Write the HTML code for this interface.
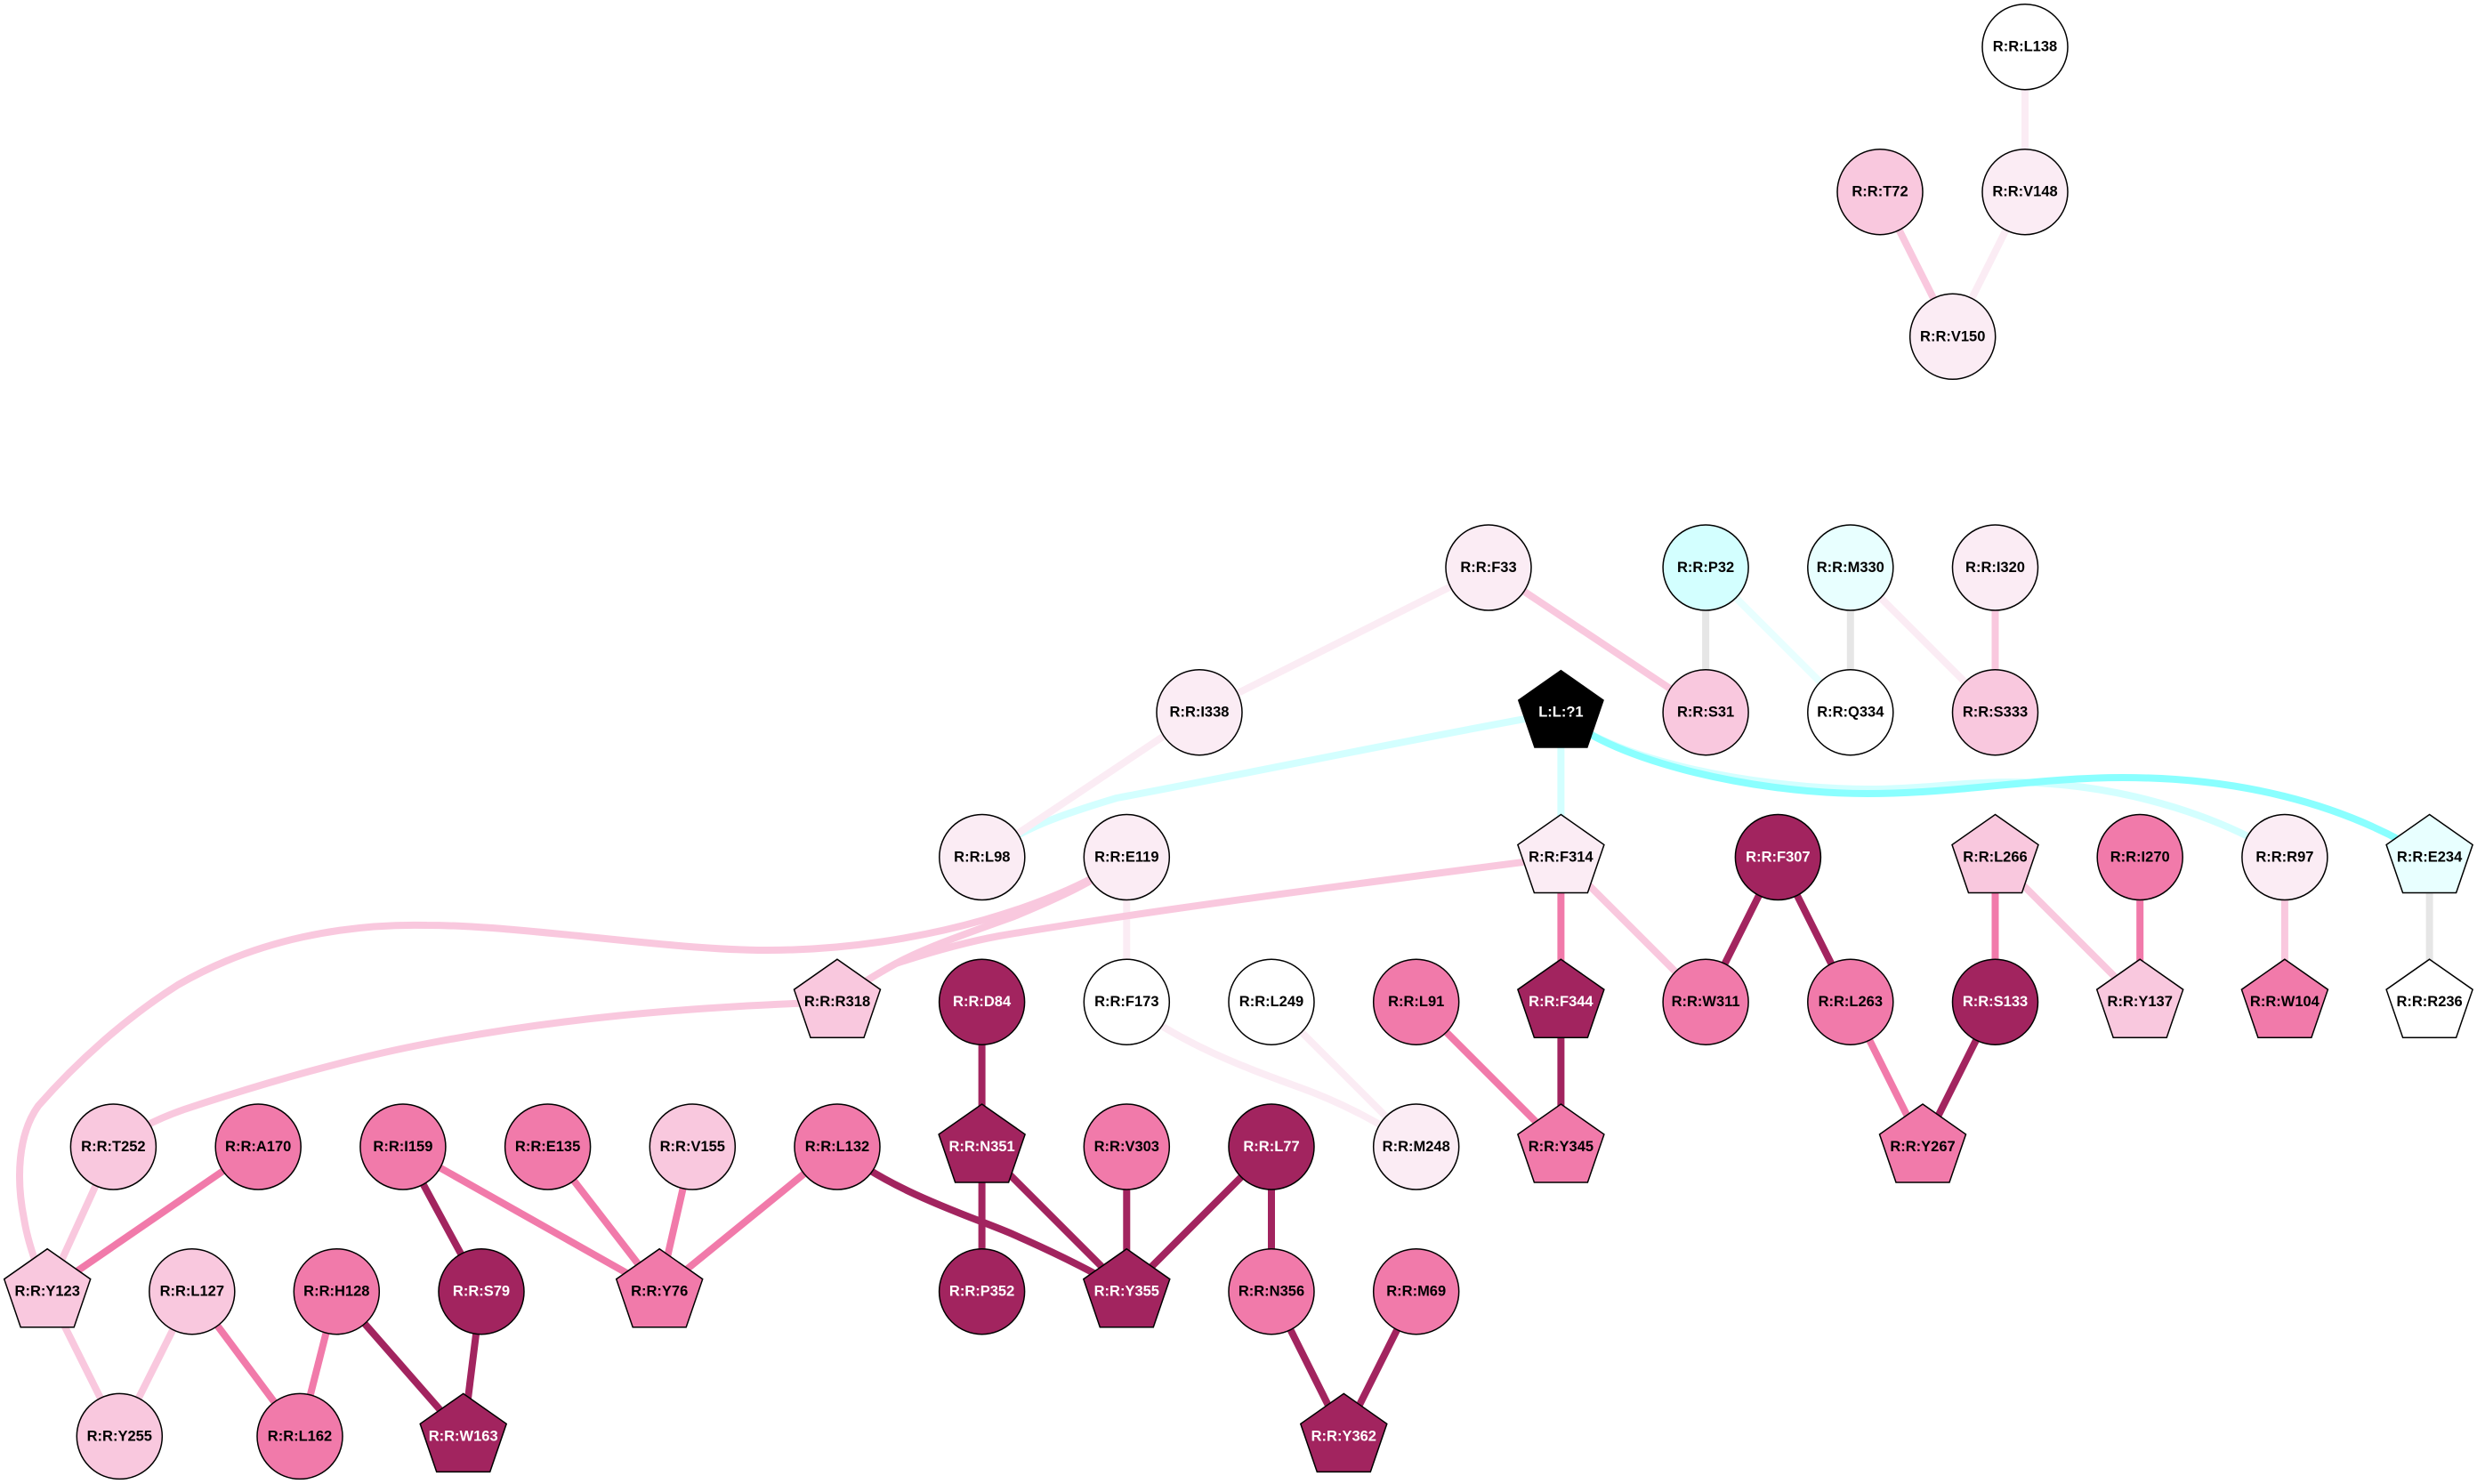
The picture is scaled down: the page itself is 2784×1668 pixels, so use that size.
<!DOCTYPE html>
<html><head><meta charset="utf-8"><style>
html,body{margin:0;padding:0;background:#fff}
svg{display:block}
text{font-family:"Liberation Sans",Arial,sans-serif;font-weight:bold;font-size:16.5px;text-anchor:middle;fill:#000}
.n circle,.n polygon{stroke:#000;stroke-width:1.5}
.d circle,.d polygon{fill:#a2245f}.d text{fill:#fff}
.p circle,.p polygon{fill:#f17aaa}
.l circle,.l polygon{fill:#f9c8de}
.e circle,.e polygon{fill:#fbecf4}
.w circle,.w polygon{fill:#fff}
.c circle,.c polygon{fill:#d3ffff}
.m circle,.m polygon{fill:#e8ffff}
.b polygon{fill:#000}.b text{fill:#fff}
#E path{fill:none;stroke-width:8}
.sd{stroke:#a2245f}.sp{stroke:#f17aaa}.sl{stroke:#f9c8de}.se{stroke:#fbecf4}.sg{stroke:#e6e6e6}.sc{stroke:#d3ffff}.sm{stroke:#e8ffff}.ss{stroke:#8affff}
</style></head><body>
<svg xmlns="http://www.w3.org/2000/svg" width="2784" height="1668" viewBox="0 0 2784 1668">
<rect width="2784" height="1668" fill="#fff"/>
<g id="E">
<path class="se" d="M2276 52.7L2276 215.7"/>
<path class="se" d="M2276 215.7L2194.7 378.3"/>
<path class="sl" d="M2113 215.7L2194.7 378.3"/>
<path class="sg" d="M1917.1 638L1917.1 800.7"/>
<path class="sm" d="M1917.1 638L2079.8 800.7"/>
<path class="sg" d="M2079.8 638L2079.8 800.7"/>
<path class="se" d="M2079.8 638L2242.5 800.7"/>
<path class="sl" d="M2242.5 638L2242.5 800.7"/>
<path class="sl" d="M1673 638L1917.1 800.7"/>
<path class="sc" d="M1754.4 800.7L1754.4 963.5"/>
<path class="sc" d="M1754.4 800.7C1600 828 1400 870 1255 897C1195 915 1150 930 1104 963.5"/>
<path class="sc" d="M1754.4 800.7C1800 850 1960 886 2099 887C2170 887 2220 876 2290 880C2400 886 2500 920 2568 963.5"/>
<path class="ss" d="M1754.4 800.7C1800 850 1960 892 2099 892C2200 892 2290 874 2386 874C2510 874 2630 900 2730.6 963.5"/>
<path class="se" d="M1673 638L1348 800.7"/>
<path class="se" d="M1348 800.7L1104 963.5"/>
<path class="se" d="M1266.3 963.5L1266.3 1126.2"/>
<path class="se" d="M1266.3 1126.2C1330 1175 1400 1200 1460 1222C1510 1240 1550 1262 1591.7 1289"/>
<path class="se" d="M1429 1126.2L1591.7 1289"/>
<path class="sl" d="M1266.3 963.5C1200 1012 1040 1068 862 1068C750 1068 590 1040 480 1040C390 1038 290 1055 200 1107C140 1145 85 1195 43 1243C20 1275 18 1325 27 1370C32 1400 42 1425 53.2 1451.7"/>
<path class="sl" d="M1266.3 963.5C1225 995 1180 1013 1140 1030C1090 1048 1040 1065 1007 1083C985 1095 960 1110 941 1126.2"/>
<path class="sl" d="M1754.4 963.5C1550 990 1300 1022 1123 1052C1080 1060 1040 1072 1007 1083C985 1095 960 1110 941 1126.2"/>
<path class="sl" d="M941 1126.2C760 1132 620 1146 480 1173C400 1188 300 1216 207 1247C170 1260 150 1272 127.4 1289"/>
<path class="sp" d="M1754.4 963.5L1754.4 1126.2"/>
<path class="sl" d="M1754.4 963.5L1917.1 1126.2"/>
<path class="sd" d="M1998.4 963.5L1917.1 1126.2"/>
<path class="sd" d="M1998.4 963.5L2079.8 1126.2"/>
<path class="sp" d="M2242.5 963.5L2242.5 1126.2"/>
<path class="sl" d="M2242.5 963.5L2405.2 1126.2"/>
<path class="sp" d="M2405.2 963.5L2405.2 1126.2"/>
<path class="sl" d="M2567.9 963.5L2567.9 1126.2"/>
<path class="sg" d="M2730.6 963.5L2730.6 1126.2"/>
<path class="sd" d="M1754.4 1126.2L1754.4 1289"/>
<path class="sp" d="M1591.7 1126.2L1754.4 1289"/>
<path class="sp" d="M2079.8 1126.2L2161 1289"/>
<path class="sd" d="M2242.5 1126.2L2161 1289"/>
<path class="sd" d="M1103.6 1126.2L1103.6 1289"/>
<path class="sd" d="M1103.6 1289L1103.6 1451.7"/>
<path class="sd" d="M1103.6 1289L1266.3 1451.7"/>
<path class="sd" d="M1266.3 1289L1266.3 1451.7"/>
<path class="sd" d="M1429 1289L1266.3 1451.7"/>
<path class="sd" d="M1429 1289L1429 1451.7"/>
<path class="sd" d="M1429 1451.7L1510.3 1614.4"/>
<path class="sd" d="M1591.7 1451.7L1510.3 1614.4"/>
<path class="sd" d="M941 1289C1000 1340 1100 1370 1140 1388C1190 1410 1230 1430 1266.3 1451.7"/>
<path class="sp" d="M941 1289L741.2 1451.7"/>
<path class="sp" d="M778.3 1289L741.2 1451.7"/>
<path class="sp" d="M615.6 1289L741.2 1451.7"/>
<path class="sp" d="M452.9 1289L741.2 1451.7"/>
<path class="sd" d="M452.9 1289L541 1451.7"/>
<path class="sp" d="M290.2 1289L53.2 1451.7"/>
<path class="sl" d="M127.4 1289L53.2 1451.7"/>
<path class="sl" d="M53.2 1451.7L134.3 1614.4"/>
<path class="sl" d="M215.8 1451.7L134.3 1614.4"/>
<path class="sp" d="M215.8 1451.7L337 1614.4"/>
<path class="sp" d="M378.3 1451.7L337 1614.4"/>
<path class="sd" d="M378.3 1451.7L520.7 1614.4"/>
<path class="sd" d="M541 1451.7L520.7 1614.4"/>
</g>
<g class="n w" transform="translate(2276,52.7)"><circle r="48"/><text y="5">R:R:L138</text></g>
<g class="n e" transform="translate(2276,215.7)"><circle r="48"/><text y="5">R:R:V148</text></g>
<g class="n l" transform="translate(2113,215.7)"><circle r="48"/><text y="5">R:R:T72</text></g>
<g class="n e" transform="translate(2194.7,378.3)"><circle r="48"/><text y="5">R:R:V150</text></g>
<g class="n e" transform="translate(1673,638)"><circle r="48"/><text y="5">R:R:F33</text></g>
<g class="n c" transform="translate(1917.1,638)"><circle r="48"/><text y="5">R:R:P32</text></g>
<g class="n m" transform="translate(2079.8,638)"><circle r="48"/><text y="5">R:R:M330</text></g>
<g class="n e" transform="translate(2242.5,638)"><circle r="48"/><text y="5">R:R:I320</text></g>
<g class="n e" transform="translate(1348,800.7)"><circle r="48"/><text y="5">R:R:I338</text></g>
<g class="b" transform="translate(1754.4,800.7)"><polygon points="0,-48 48.5,-14 30,40 -30,40 -48.5,-14"/><text y="5">L:L:?1</text></g>
<g class="n l" transform="translate(1917.1,800.7)"><circle r="48"/><text y="5">R:R:S31</text></g>
<g class="n w" transform="translate(2079.8,800.7)"><circle r="48"/><text y="5">R:R:Q334</text></g>
<g class="n l" transform="translate(2242.5,800.7)"><circle r="48"/><text y="5">R:R:S333</text></g>
<g class="n e" transform="translate(1103.8,963.5)"><circle r="48"/><text y="5">R:R:L98</text></g>
<g class="n e" transform="translate(1266.3,963.5)"><circle r="48"/><text y="5">R:R:E119</text></g>
<g class="n e" transform="translate(1754.4,963.5)"><polygon points="0,-48 48.5,-14 30,40 -30,40 -48.5,-14"/><text y="5">R:R:F314</text></g>
<g class="n d" transform="translate(1998.4,963.5)"><circle r="48"/><text y="5">R:R:F307</text></g>
<g class="n l" transform="translate(2242.5,963.5)"><polygon points="0,-48 48.5,-14 30,40 -30,40 -48.5,-14"/><text y="5">R:R:L266</text></g>
<g class="n p" transform="translate(2405.2,963.5)"><circle r="48"/><text y="5">R:R:I270</text></g>
<g class="n e" transform="translate(2567.9,963.5)"><circle r="48"/><text y="5">R:R:R97</text></g>
<g class="n m" transform="translate(2730.6,963.5)"><polygon points="0,-48 48.5,-14 30,40 -30,40 -48.5,-14"/><text y="5">R:R:E234</text></g>
<g class="n l" transform="translate(941,1126.2)"><polygon points="0,-48 48.5,-14 30,40 -30,40 -48.5,-14"/><text y="5">R:R:R318</text></g>
<g class="n d" transform="translate(1103.6,1126.2)"><circle r="48"/><text y="5">R:R:D84</text></g>
<g class="n w" transform="translate(1266.3,1126.2)"><circle r="48"/><text y="5">R:R:F173</text></g>
<g class="n w" transform="translate(1429,1126.2)"><circle r="48"/><text y="5">R:R:L249</text></g>
<g class="n p" transform="translate(1591.7,1126.2)"><circle r="48"/><text y="5">R:R:L91</text></g>
<g class="n d" transform="translate(1754.4,1126.2)"><polygon points="0,-48 48.5,-14 30,40 -30,40 -48.5,-14"/><text y="5">R:R:F344</text></g>
<g class="n p" transform="translate(1917.1,1126.2)"><circle r="48"/><text y="5">R:R:W311</text></g>
<g class="n p" transform="translate(2079.8,1126.2)"><circle r="48"/><text y="5">R:R:L263</text></g>
<g class="n d" transform="translate(2242.5,1126.2)"><circle r="48"/><text y="5">R:R:S133</text></g>
<g class="n l" transform="translate(2405.2,1126.2)"><polygon points="0,-48 48.5,-14 30,40 -30,40 -48.5,-14"/><text y="5">R:R:Y137</text></g>
<g class="n p" transform="translate(2567.9,1126.2)"><polygon points="0,-48 48.5,-14 30,40 -30,40 -48.5,-14"/><text y="5">R:R:W104</text></g>
<g class="n w" transform="translate(2730.6,1126.2)"><polygon points="0,-48 48.5,-14 30,40 -30,40 -48.5,-14"/><text y="5">R:R:R236</text></g>
<g class="n l" transform="translate(127.4,1289)"><circle r="48"/><text y="5">R:R:T252</text></g>
<g class="n p" transform="translate(290.2,1289)"><circle r="48"/><text y="5">R:R:A170</text></g>
<g class="n p" transform="translate(452.9,1289)"><circle r="48"/><text y="5">R:R:I159</text></g>
<g class="n p" transform="translate(615.6,1289)"><circle r="48"/><text y="5">R:R:E135</text></g>
<g class="n l" transform="translate(778.3,1289)"><circle r="48"/><text y="5">R:R:V155</text></g>
<g class="n p" transform="translate(941,1289)"><circle r="48"/><text y="5">R:R:L132</text></g>
<g class="n d" transform="translate(1103.6,1289)"><polygon points="0,-48 48.5,-14 30,40 -30,40 -48.5,-14"/><text y="5">R:R:N351</text></g>
<g class="n p" transform="translate(1266.3,1289)"><circle r="48"/><text y="5">R:R:V303</text></g>
<g class="n d" transform="translate(1429,1289)"><circle r="48"/><text y="5">R:R:L77</text></g>
<g class="n e" transform="translate(1591.7,1289)"><circle r="48"/><text y="5">R:R:M248</text></g>
<g class="n p" transform="translate(1754.4,1289)"><polygon points="0,-48 48.5,-14 30,40 -30,40 -48.5,-14"/><text y="5">R:R:Y345</text></g>
<g class="n p" transform="translate(2161,1289)"><polygon points="0,-48 48.5,-14 30,40 -30,40 -48.5,-14"/><text y="5">R:R:Y267</text></g>
<g class="n l" transform="translate(53.2,1451.7)"><polygon points="0,-48 48.5,-14 30,40 -30,40 -48.5,-14"/><text y="5">R:R:Y123</text></g>
<g class="n l" transform="translate(215.8,1451.7)"><circle r="48"/><text y="5">R:R:L127</text></g>
<g class="n p" transform="translate(378.3,1451.7)"><circle r="48"/><text y="5">R:R:H128</text></g>
<g class="n d" transform="translate(541,1451.7)"><circle r="48"/><text y="5">R:R:S79</text></g>
<g class="n p" transform="translate(741.2,1451.7)"><polygon points="0,-48 48.5,-14 30,40 -30,40 -48.5,-14"/><text y="5">R:R:Y76</text></g>
<g class="n d" transform="translate(1103.6,1451.7)"><circle r="48"/><text y="5">R:R:P352</text></g>
<g class="n d" transform="translate(1266.3,1451.7)"><polygon points="0,-48 48.5,-14 30,40 -30,40 -48.5,-14"/><text y="5">R:R:Y355</text></g>
<g class="n p" transform="translate(1429,1451.7)"><circle r="48"/><text y="5">R:R:N356</text></g>
<g class="n p" transform="translate(1591.7,1451.7)"><circle r="48"/><text y="5">R:R:M69</text></g>
<g class="n l" transform="translate(134.3,1614.4)"><circle r="48"/><text y="5">R:R:Y255</text></g>
<g class="n p" transform="translate(337,1614.4)"><circle r="48"/><text y="5">R:R:L162</text></g>
<g class="n d" transform="translate(520.7,1614.4)"><polygon points="0,-48 48.5,-14 30,40 -30,40 -48.5,-14"/><text y="5">R:R:W163</text></g>
<g class="n d" transform="translate(1510.3,1614.4)"><polygon points="0,-48 48.5,-14 30,40 -30,40 -48.5,-14"/><text y="5">R:R:Y362</text></g>
</svg>
</body></html>
